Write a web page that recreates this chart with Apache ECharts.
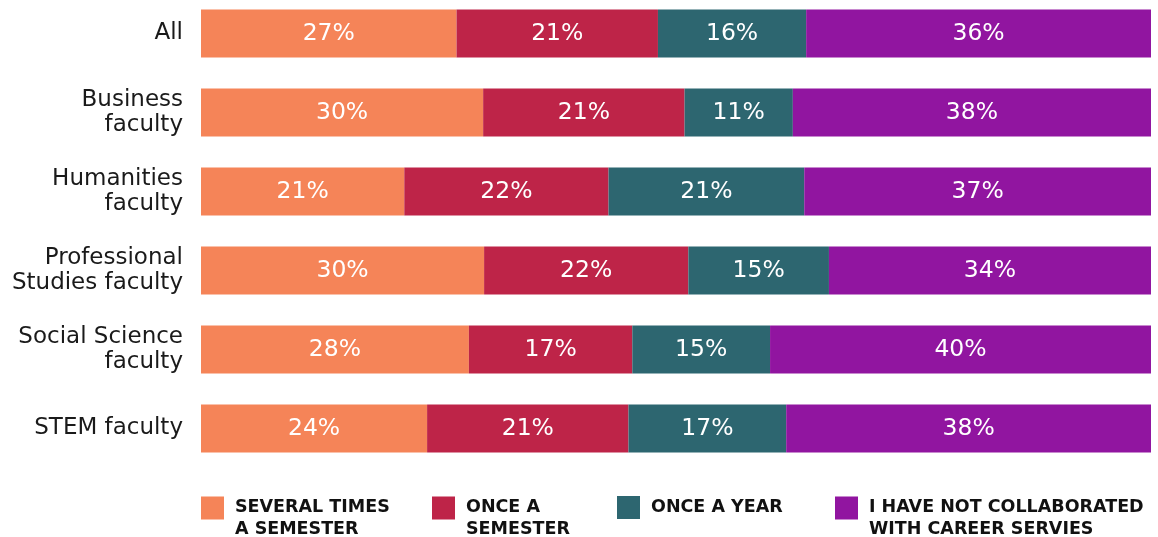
<!DOCTYPE html>
<html>
<head>
<meta charset="utf-8">
<script src="https://cdn.jsdelivr.net/npm/echarts@6/dist/echarts.min.js"></script>
<style>html,body{margin:0;padding:0;background:#fff;}#chart{width:1158px;height:537px;}</style>
</head>
<body>
<div id="chart"></div>
<script>
const categories = ['All', 'Business\nfaculty', 'Humanities\nfaculty', 'Professional\nStudies faculty', 'Social Science\nfaculty', 'STEM faculty'];
const seriesNames = ['SEVERAL TIMES\nA SEMESTER', 'ONCE A\nSEMESTER', 'ONCE A YEAR', 'I HAVE NOT COLLABORATED\nWITH CAREER SERVIES'];
const severalTimes = [26.9, 29.7, 21.4, 29.8, 28.2, 23.8];
const onceSemester = [21.2, 21.2, 21.5, 21.5, 17.2, 21.2];
const onceYear = [15.6, 11.4, 20.6, 14.8, 14.5, 16.6];
const notCollab = [36.3, 37.7, 36.5, 33.9, 40.1, 38.4];
const colors = ['#F58458', '#BE2448', '#2D6670', '#9115A0'];

const values = [severalTimes, onceSemester, onceYear, notCollab];
const FONT = 'DejaVu Sans';

const chart = echarts.init(document.getElementById('chart'), null, {renderer: 'canvas'});
const legendLefts = [201, 432, 617, 835];
const tallIcon = 'path://M0,0L23,0L23,23L0,23Z M0,43L0.01,43';
const option = {
  animation: false,
  color: colors,
  grid: {left: 201, right: 7, top: -6, height: 474, containLabel: false, outerBoundsMode: 'none'},
  xAxis: {type: 'value', min: 0, max: 100, show: false},
  yAxis: {
    type: 'category', data: categories, inverse: true,
    axisLine: {show: false}, axisTick: {show: false},
    axisLabel: {fontFamily: FONT, fontSize: 23, color: '#1a1a1a', margin: 18, lineHeight: 25, align: 'right'}
  },
  legend: seriesNames.map((n, i) => {
    const two = n.indexOf('\n') >= 0;
    return {
      data: [n], left: legendLefts[i], top: 496, orient: 'horizontal', padding: 0,
      itemWidth: 23, itemHeight: two ? 43 : 23, icon: two ? tallIcon : 'rect', itemGap: 0,
      selectedMode: false,
      textStyle: {fontFamily: FONT, fontSize: 17.5, fontWeight: 'bold', color: '#111', lineHeight: 22,
        padding: [0, 0, 0, 6]}
    };
  }),
  series: seriesNames.map((n, i) => ({
    name: n, type: 'bar', stack: 'total', data: values[i], barWidth: 48,
    itemStyle: {color: colors[i]},
    label: {show: true, position: 'inside', color: '#fff', fontFamily: FONT, fontSize: 23.5,
      formatter: p => Math.round(p.value) + '%'}
  }))
};
chart.setOption(option);
</script>
</body>
</html>
